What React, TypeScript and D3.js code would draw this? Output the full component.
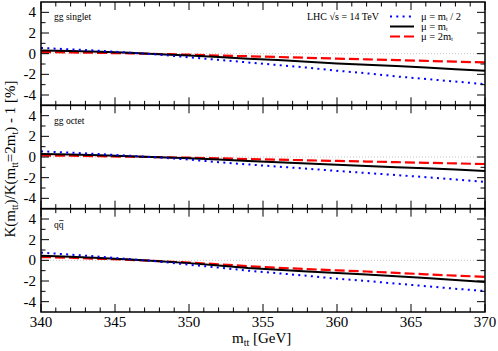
import React from 'react';
import * as d3 from 'd3';

// m_tt grid [GeV]
const mtt = [340, 342, 344, 346, 348, 350, 352, 354, 356, 358, 360, 362, 364, 366, 368, 370];

// gg singlet
const singletHalf = [0.55, 0.42, 0.28, 0.1, -0.1, -0.35, -0.6, -0.85, -1.1, -1.35, -1.65, -1.9, -2.2, -2.45, -2.7, -2.95];
const singletNom = [0.3, 0.25, 0.18, 0.08, -0.05, -0.18, -0.33, -0.48, -0.62, -0.78, -0.95, -1.07, -1.2, -1.35, -1.5, -1.65];
const singletDouble = [0.15, 0.12, 0.08, 0.03, -0.03, -0.1, -0.18, -0.25, -0.32, -0.4, -0.48, -0.55, -0.62, -0.7, -0.77, -0.85];

// gg octet
const octetHalf = [0.55, 0.42, 0.28, 0.12, -0.05, -0.25, -0.5, -0.72, -0.93, -1.13, -1.35, -1.55, -1.75, -1.95, -2.18, -2.4];
const octetNom = [0.3, 0.24, 0.16, 0.07, -0.03, -0.13, -0.25, -0.38, -0.5, -0.62, -0.75, -0.87, -0.98, -1.1, -1.22, -1.35];
const octetDouble = [0.15, 0.12, 0.08, 0.03, -0.02, -0.07, -0.13, -0.2, -0.26, -0.32, -0.38, -0.44, -0.5, -0.56, -0.62, -0.68];

// q qbar
const qqHalf = [0.75, 0.55, 0.35, 0.12, -0.12, -0.42, -0.7, -1.0, -1.25, -1.5, -1.78, -2.0, -2.25, -2.5, -2.75, -2.97];
const qqNom = [0.45, 0.35, 0.22, 0.08, -0.08, -0.27, -0.5, -0.75, -0.92, -1.08, -1.23, -1.38, -1.53, -1.7, -1.9, -2.1];
const qqDouble = [0.32, 0.25, 0.15, 0.05, -0.08, -0.22, -0.38, -0.57, -0.72, -0.85, -0.97, -1.08, -1.22, -1.35, -1.48, -1.6];

const xTickLabels = [340, 345, 350, 355, 360, 365, 370];
const yTickLabels = [-4, -2, 0, 2, 4];

const panels = [
  { name: 'singlet', half: singletHalf, nom: singletNom, dbl: singletDouble },
  { name: 'octet', half: octetHalf, nom: octetNom, dbl: octetDouble },
  { name: 'qq', half: qqHalf, nom: qqNom, dbl: qqDouble },
];

const W = 498, H = 351;
const left = 41, right = 485, top = 2, bottom = 312;
const panelH = (bottom - top) / 3;
const font = '"Liberation Serif", "Times New Roman", serif';

const styles = {
  half: { stroke: '#0000ff', width: 2, dash: '2 4.3' },
  nom: { stroke: '#000000', width: 2, dash: null },
  dbl: { stroke: '#ff0000', width: 2.2, dash: '10 4' },
};

export default function App() {
  const x = d3.scaleLinear().domain([340, 370]).range([left, right]);
  const minor = d3.range(340, 371);
  const yMinor = d3.range(-4, 5);

  return (
    <svg width={W} height={H} style={{ display: 'block', position: 'absolute', left: 0, top: 0, background: '#fff' }}>
      {panels.map((p, i) => {
        const y0 = top + i * panelH;
        const y = d3.scaleLinear().domain([-5, 5]).range([y0 + panelH, y0]);
        const line = (vals: number[]) =>
          d3.line<number>().x((_, j) => x(mtt[j])).y(v => y(v))(vals) || '';
        return (
          <g key={p.name}>
            {/* zero reference */}
            <line x1={left} x2={right} y1={y(0)} y2={y(0)} stroke="#c8c8c8" strokeDasharray="1 2" />
            {(['dbl', 'nom', 'half'] as const).map(k => (
              <path key={k} d={line(p[k])} fill="none" stroke={styles[k].stroke}
                strokeWidth={styles[k].width} strokeDasharray={styles[k].dash || undefined} />
            ))}
            {/* x ticks top and bottom */}
            {minor.map(v => {
              const len = v % 5 === 0 ? 8 : 4.5;
              return (
                <g key={'xt' + v} stroke="#000" strokeWidth={1}>
                  <line x1={x(v)} x2={x(v)} y1={y0 + panelH} y2={y0 + panelH - len} />
                  <line x1={x(v)} x2={x(v)} y1={y0} y2={y0 + len} />
                </g>
              );
            })}
            {/* y ticks left and right */}
            {yMinor.map(v => {
              const len = v % 2 === 0 ? 8 : 4.5;
              return (
                <g key={'yt' + v} stroke="#000" strokeWidth={1}>
                  <line x1={left} x2={left + len} y1={y(v)} y2={y(v)} />
                  <line x1={right} x2={right - len} y1={y(v)} y2={y(v)} />
                </g>
              );
            })}
            {yTickLabels.map(v => (
              <text key={'yl' + v} x={left - 5} y={y(v) + 5} textAnchor="end"
                fontFamily={font} fontSize={15} fill="#000">{v}</text>
            ))}
            <rect x={left} y={y0} width={right - left} height={panelH} fill="none" stroke="#000" strokeWidth={1.5} />
          </g>
        );
      })}

      {/* panel labels */}
      <text x={54} y={20} fontFamily={font} fontSize={9.5}>gg singlet</text>
      <text x={54} y={124} fontFamily={font} fontSize={9.5}>gg octet</text>
      <text x={54} y={228} fontFamily={font} fontSize={9.5}>qq</text>
      <line x1={59.2} x2={63.5} y1={220.5} y2={220.5} stroke="#000" strokeWidth={0.7} />

      {/* legend */}
      <text x={307} y={20} fontFamily={font} fontSize={10}>LHC √s = 14 TeV</text>
      {(['half', 'nom', 'dbl'] as const).map((k, j) => {
        const ly = 16.5 + j * 10;
        return (
          <g key={'lg' + k}>
            <line x1={390} x2={414} y1={ly} y2={ly} stroke={styles[k].stroke}
              strokeWidth={styles[k].width} strokeDasharray={styles[k].dash || undefined} />
            <text x={421} y={ly + 3} fontFamily={font} fontSize={10.5}>
              {'μ = '}
              {k === 'dbl' ? '2' : ''}m<tspan fontSize={6} dy={1.5}>t</tspan>
              <tspan dy={-1.5}>{k === 'half' ? ' / 2' : ''}</tspan>
            </text>
          </g>
        );
      })}

      {/* x tick labels */}
      {xTickLabels.map(v => (
        <text key={'xl' + v} x={x(v)} y={327} textAnchor="middle" fontFamily={font} fontSize={15}>{v}</text>
      ))}

      {/* axis titles */}
      <text x={232} y={343} fontFamily={font} fontSize={15}>
        m<tspan fontSize={10} dy={3}>tt</tspan><tspan dy={-3}> [GeV]</tspan>
      </text>
      <text transform={`translate(15,${(top + bottom) / 2 + 2}) rotate(-90)`} textAnchor="middle"
        fontFamily={font} fontSize={15}>
        K(m<tspan fontSize={10} dy={3}>tt</tspan><tspan dy={-3}>)/K(m</tspan>
        <tspan fontSize={10} dy={3}>tt</tspan><tspan dy={-3}>=2m</tspan>
        <tspan fontSize={10} dy={3}>t</tspan><tspan dy={-3}>) - 1 [%]</tspan>
      </text>
    </svg>
  );
}
